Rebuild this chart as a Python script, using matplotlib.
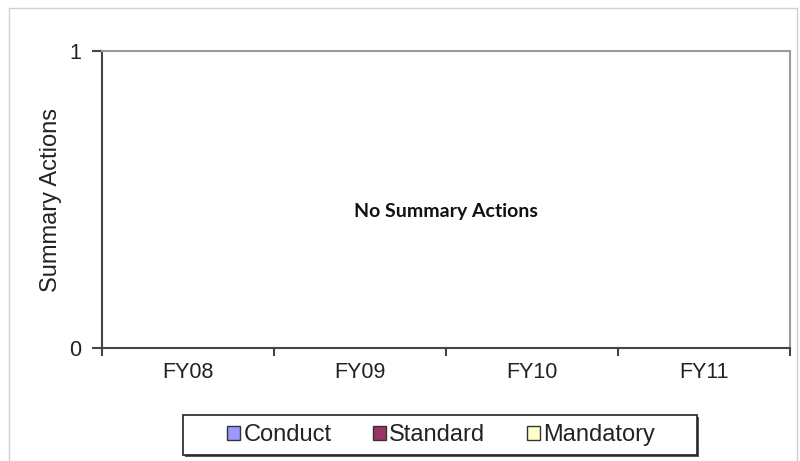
import matplotlib.pyplot as plt
import numpy as np
from matplotlib.patches import Patch, Rectangle

years = ["FY08", "FY09", "FY10", "FY11"]
series = ["Conduct", "Standard", "Mandatory"]
conduct = [0, 0, 0, 0]
standard = [0, 0, 0, 0]
mandatory = [0, 0, 0, 0]
colors = ["#9999FF", "#993366", "#FFFFCC"]

plt.rcParams['font.family'] = ['Liberation Sans', 'DejaVu Sans']

W, H = 800, 461
fig = plt.figure(figsize=(8, 4.61), dpi=100)
ax = fig.add_axes([102 / W, 1 - 348 / H, 688 / W, 297 / H])

# outer chart frame
fig.patches.append(Rectangle((9 / W, -0.05), 788 / W, 1 - 8 / H + 0.05,
                             transform=fig.transFigure, fill=False,
                             edgecolor="#d0d0d0", linewidth=1))

x = np.arange(len(years))
w = 0.2
for i, (vals, c) in enumerate(zip([conduct, standard, mandatory], colors)):
    ax.bar(x + (i - 1) * w, vals, w, color=c, edgecolor="#333333")

ax.set_xlim(-0.5, 3.5)
ax.set_ylim(0, 1)
ax.set_yticks([0, 1])
ax.set_xticks(x)
ax.set_xticklabels(years, fontsize=15.5, color="#222222")
ax.set_xticks(np.arange(-0.5, 4, 1), minor=True)
ax.tick_params(axis="x", which="major", length=0, pad=10)
ax.tick_params(axis="x", which="minor", length=6, width=1.5, color="#444444", direction="out")
ax.tick_params(axis="y", length=7, width=1.5, color="#444444", labelsize=15.5, labelcolor="#222222", pad=8)

for s in ["left", "bottom"]:
    ax.spines[s].set_color("#444444")
    ax.spines[s].set_linewidth(1.5)
for s in ["top", "right"]:
    ax.spines[s].set_color("#9a9a9a")
    ax.spines[s].set_linewidth(1.5)

ax.set_ylabel("Summary Actions", fontsize=17, color="#222222", labelpad=5)

ax.text(0.5, 0.46, "No Summary Actions", transform=ax.transAxes, ha="center", va="center",
        fontsize=14, fontweight="bold", family=["Lato", "DejaVu Sans"], color="#111111")

# legend box with a small shadow
fig.patches.append(Rectangle(((183 + 2) / W, 1 - (455 + 2) / H), 514 / W, 40 / H,
                             transform=fig.transFigure, facecolor="#555555", edgecolor="none"))
fig.patches.append(Rectangle((183 / W, 1 - 455 / H), 514 / W, 40 / H,
                             transform=fig.transFigure, facecolor="white",
                             edgecolor="#222222", linewidth=1.2))

handles = [Patch(facecolor=c, edgecolor="#333333", linewidth=1) for c in colors]
leg = fig.legend(handles, series, loc="center", bbox_to_anchor=(441 / W, 1 - 435 / H),
                 ncol=3, fontsize=17, frameon=False,
                 handlelength=0.55, handleheight=0.55, handletextpad=0.15, columnspacing=1.75,
                 borderpad=0, borderaxespad=0)
for t in leg.get_texts():
    t.set_color("#222222")

fig.savefig("out.png", dpi=100)
